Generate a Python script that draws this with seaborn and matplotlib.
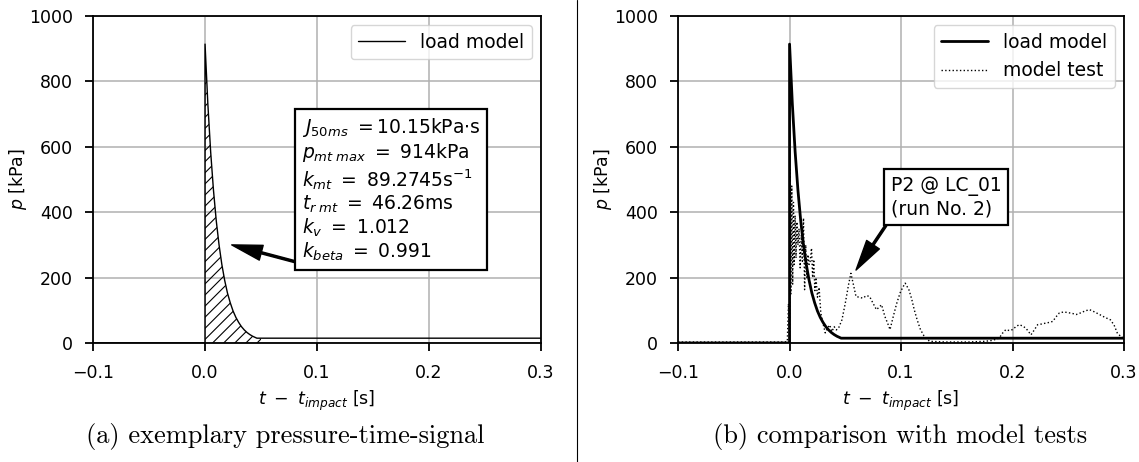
import numpy as np
import pandas as pd
import matplotlib
matplotlib.use("Agg")
import matplotlib.pyplot as plt
import seaborn as sns

# ---------------- data ----------------
# load model (pressure in kPa vs. time relative to impact in s)
model_t = [-0.1, 0.0, 0.0, 0.0025, 0.005, 0.0075, 0.01, 0.0125, 0.015, 0.0175, 0.02,
           0.0225, 0.025, 0.0275, 0.03, 0.0325, 0.035, 0.0375, 0.04, 0.0425, 0.04626, 0.3]
model_p = [0.0, 0.0, 914, 731, 585, 468, 374, 300, 240, 192, 153,
           123, 98, 78.5, 63, 50, 40, 32, 25.7, 20.6, 14.7, 14.7]

# hatched impulse area (first 50 ms)
fill_t = [0.0, 0.0025, 0.005, 0.0075, 0.01, 0.0125, 0.015, 0.0175, 0.02, 0.0225, 0.025,
          0.0275, 0.03, 0.0325, 0.035, 0.0375, 0.04, 0.0425, 0.04626, 0.05]
fill_p = [914, 731, 585, 468, 374, 300, 240, 192, 153, 123, 98,
          78.5, 63, 50, 40, 32, 25.7, 20.6, 14.7, 14.7]

# model test signal P2 @ LC_01 (run No. 2)
test_t = [-0.1, -0.05, -0.01, -0.004, -0.002, -0.001, 0.0, 0.0005, 0.0012, 0.002, 0.0028,
          0.0035, 0.0042, 0.005, 0.0058, 0.0066, 0.0075, 0.0085, 0.0095, 0.0105, 0.0115,
          0.0125, 0.0135, 0.0145, 0.0155, 0.0165, 0.0175, 0.0185, 0.0197, 0.0207, 0.0217,
          0.0227, 0.0237, 0.0250, 0.0265, 0.028, 0.030, 0.032, 0.034, 0.036, 0.038, 0.040,
          0.042, 0.044, 0.047, 0.050, 0.053, 0.055, 0.0575, 0.0596, 0.0625, 0.0657, 0.0690,
          0.0718, 0.0748, 0.0779, 0.0805, 0.0825, 0.0855, 0.0880, 0.0901, 0.093, 0.096,
          0.0991, 0.1015, 0.1037, 0.107, 0.1095, 0.1118, 0.1145, 0.1174, 0.1205, 0.1235,
          0.126, 0.14, 0.16, 0.175, 0.182, 0.188, 0.191, 0.194, 0.197, 0.200, 0.203, 0.206,
          0.209, 0.212, 0.2165, 0.2195, 0.2225, 0.226, 0.230, 0.233, 0.236, 0.239, 0.242,
          0.246, 0.251, 0.254, 0.257, 0.261, 0.265, 0.269, 0.2735, 0.278, 0.283, 0.2877,
          0.291, 0.294, 0.297, 0.2995]
test_p = [3, 3, 3, 3, 5, 120, 8, 530, 150, 480, 180,
          430, 240, 390, 260, 370, 300, 350, 230, 330, 250,
          382, 163, 300, 200, 270, 240, 250, 290, 200, 255,
          160, 200, 140, 170, 92, 60, 31, 45, 55, 35, 50,
          40, 46, 71, 122, 180, 213, 175, 142, 140, 137, 145,
          142, 122, 102, 110, 117, 81, 60, 41, 81, 120,
          153, 170, 183, 163, 135, 102, 70, 41, 22, 10,
          5, 3, 3, 5, 8, 15, 30, 41, 38, 41, 50, 56,
          52, 45, 25, 40, 56, 58, 61, 63, 66, 80, 92,
          95, 92, 90, 87, 92, 98, 102, 95, 87, 78, 71,
          55, 30, 20, 15]

x_ticks = [-0.1, 0.0, 0.1, 0.2, 0.3]
y_ticks = [0, 200, 400, 600, 800, 1000]

param_lines = [r"$J_{50ms}$ $=10.15$kPa$\cdot$s",
               r"$p_{mt\;max}$ $=$ 914kPa",
               r"$k_{mt}$ $=$ 89.2745s$^{-1}$",
               r"$t_{r\;mt}$ $=$ 46.26ms",
               r"$k_{v}$ $=$ 1.012",
               r"$k_{beta}$ $=$ 0.991"]
test_label = "P2 @ LC_01\n(run No. 2)"
captions = ["(a) exemplary pressure-time-signal", "(b) comparison with model tests"]

# ---------------- styling ----------------
sns.set_theme(style="ticks")
plt.rcParams.update({
    "font.family": ["DejaVu Sans"],
    "font.size": 12.5,
    "axes.linewidth": 1.3,
    "xtick.major.size": 6,
    "ytick.major.size": 6,
    "xtick.major.width": 1.3,
    "ytick.major.width": 1.3,
    "xtick.major.pad": 9,
    "ytick.major.pad": 8.5,
    "xtick.labelsize": 12.5,
    "ytick.labelsize": 12.5,
    "axes.labelsize": 12.5,
    "legend.fontsize": 13.5,
    "axes.edgecolor": "black",
    "xtick.color": "black",
    "ytick.color": "black",
    "text.color": "black",
    "axes.labelcolor": "black",
    "hatch.linewidth": 0.8,
})

fig = plt.figure(figsize=(11.39, 4.62), dpi=100)
ax1 = fig.add_axes([0.0817, 0.2576, 0.3933, 0.7078])
ax2 = fig.add_axes([0.5953, 0.2576, 0.3916, 0.7078])

df_model = pd.DataFrame({"t": model_t, "p": model_p, "series": "load model"})
df_test = pd.DataFrame({"t": test_t, "p": test_p, "series": "model test"})

arrow_kw = dict(facecolor="black", edgecolor="black", width=1.5,
                headwidth=11, headlength=22, shrink=0.0)
box_kw = dict(boxstyle="square,pad=0.35", fc="white", ec="black", lw=1.6)

# ---- left panel ----
ax1.fill_between(fill_t, 0, fill_p, facecolor="none", edgecolor="black",
                 hatch="///", linewidth=0)
sns.lineplot(data=df_model, x="t", y="p", ax=ax1, color="black", lw=1.0,
             sort=False, estimator=None, label="load model")
ax1.annotate("\n".join(param_lines), xy=(0.0238, 300), xytext=(0.1661, 468),
             ha="center", va="center", multialignment="left", fontsize=13.5,
             linespacing=1.12, bbox=box_kw, arrowprops=arrow_kw)

# ---- right panel ----
sns.lineplot(data=df_model, x="t", y="p", ax=ax2, color="black", lw=2.0,
             sort=False, estimator=None, label="load model")
sns.lineplot(data=df_test, x="t", y="p", ax=ax2, color="black", lw=1.0,
             linestyle=":", sort=False, estimator=None, label="model test")
ax2.annotate(test_label, xy=(0.0596, 223), xytext=(0.1404, 445),
             ha="center", va="center", multialignment="left", fontsize=13.5,
             bbox=box_kw, arrowprops=arrow_kw)

for ax in (ax1, ax2):
    ax.set_xlim(-0.1, 0.3)
    ax.set_ylim(0, 1000)
    ax.set_xticks(x_ticks)
    ax.set_yticks(y_ticks)
    ax.set_xticklabels([f"{v:.1f}".replace("-", "\u2212") for v in x_ticks])
    ax.grid(True, color="#b0b0b0", lw=1.1)
    ax.set_axisbelow(True)
    for s in ax.spines.values():
        s.set_visible(True)
        s.set_color("black")
    ax.set_xlabel(r"$t\ -\ t_{impact}$ [s]", labelpad=5)
    ax.set_ylabel(r"$p$ [kPa]", labelpad=0)
    leg = ax.legend(loc="upper right", handlelength=2.5, framealpha=0.8,
                    fancybox=True)
    leg.get_frame().set_edgecolor("#cccccc")

# captions and separator
fig.text(285 / 1139, 1 - 437 / 462, captions[0], ha="center", va="center",
         fontsize=19, family="cmr10")
fig.text(900 / 1139, 1 - 437 / 462, captions[1], ha="center", va="center",
         fontsize=19, family="cmr10")
fig.add_artist(plt.Line2D([0.5062, 0.5062], [0.0, 1.0], color="black", lw=0.8,
                          transform=fig.transFigure))

fig.savefig("out.png", dpi=100)
